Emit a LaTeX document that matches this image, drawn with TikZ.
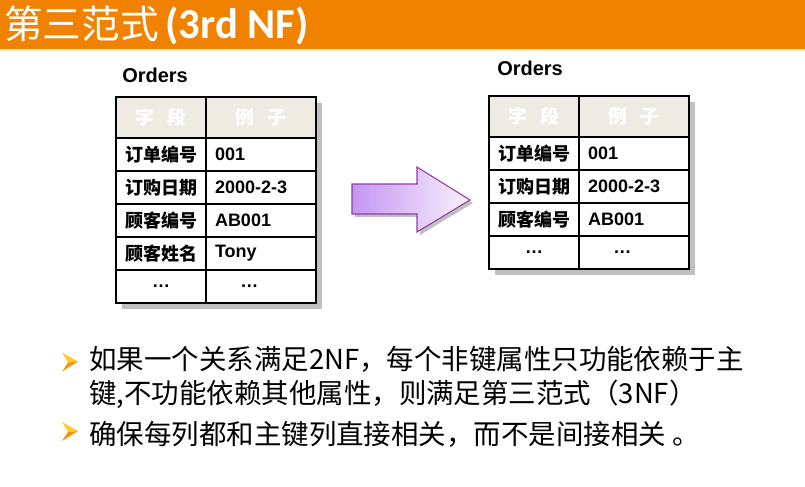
\documentclass[tikz,border=0pt]{standalone}
\usepackage{fontspec}
\setmainfont{Liberation Sans}
\newfontfamily\cjk{Noto Sans CJK SC}
\newfontfamily\titlelatin{Carlito}
\usepackage{tikz}
\usetikzlibrary{positioning, fit, backgrounds}

\definecolor{bandorange}{RGB}{240,130,0}
\definecolor{bandedge}{RGB}{253,238,205}
\definecolor{hdrfill}{RGB}{238,235,226}
\definecolor{shadowgray}{RGB}{192,192,192}
\definecolor{arrowdark}{RGB}{196,150,242}
\definecolor{arrowlight}{RGB}{248,242,253}
\definecolor{arrowline}{RGB}{145,60,165}
\definecolor{bulletgold}{RGB}{255,204,40}
\definecolor{bulletorange}{RGB}{240,150,10}

\begin{document}
\begin{tikzpicture}[
    x=0.75pt, y=-0.75pt,
    tablename/.style={
      anchor=west,
      inner sep=0pt,
      font=\bfseries\fontsize{15pt}{18pt}\selectfont
    },
    cell/.style={
      draw,
      line width=0.8pt,
      outer sep=0pt,
      inner ysep=1pt,
      fill=white,
      minimum height=24.75pt
    },
    hdcell/.style={
      cell,
      fill=hdrfill,
      text=white,
      minimum height=30.75pt,
      font=\cjk\bfseries\fontsize{14pt}{16pt}\selectfont
    },
    keycell/.style={
      cell,
      minimum width=67.5pt,
      inner xsep=3pt,
      font=\cjk\bfseries\fontsize{13.5pt}{16pt}\selectfont
    },
    valcell/.style={
      cell,
      inner xsep=6.75pt,
      text width=69pt,
      align=left,
      font=\bfseries\fontsize{13.5pt}{16pt}\selectfont
    },
    tblshadow/.style={fill=shadowgray, inner sep=0pt, xshift=4.5pt, yshift=-4.5pt},
    pointtext/.style={
      anchor=west,
      inner sep=0pt,
      font=\cjk\fontsize{20.6pt}{24pt}\selectfont
    },
    tipmark/.pic={
      \fill[bulletgold] (0,0) -- (16,9) -- (6,10) -- cycle;
      \fill[bulletorange] (6,10) -- (16,9) -- (0,19) -- cycle;
    }
  ]
    \useasboundingbox (0,0) rectangle (805,486);

    % title band
    \fill[bandorange] (0,0) rectangle (805,49);
    \fill[bandedge] (0,49) rectangle (805,51);
    \node[anchor=west, inner sep=0pt, text=white] (title) at (4,25)
      {{\cjk\fontsize{29pt}{32pt}\selectfont 第三范式}\hspace{5pt}{\titlelatin\bfseries\fontsize{32pt}{34pt}\selectfont (3rd NF)}};

    % left table
    \node[tablename] (lname) at (122,75) {Orders};
    \node[hdcell, minimum width=67.5pt] (lk0) at (161,117.5) {字\hspace{0.7em}段};
    \node[hdcell, minimum width=82.5pt, right=0pt of lk0] (lv0) {例\hspace{0.7em}子};
    \node[keycell, below=0pt of lk0] (lk1) {订单编号};
    \node[valcell, right=0pt of lk1] (lv1) {001};
    \node[keycell, below=0pt of lk1] (lk2) {订购日期};
    \node[valcell, right=0pt of lk2] (lv2) {2000-2-3};
    \node[keycell, below=0pt of lk2] (lk3) {顾客编号};
    \node[valcell, right=0pt of lk3] (lv3) {AB001};
    \node[keycell, below=0pt of lk3] (lk4) {顾客姓名};
    \node[valcell, right=0pt of lk4] (lv4) {Tony};
    \node[keycell, font=\bfseries\fontsize{13.5pt}{16pt}\selectfont, below=0pt of lk4] (lk5) {…};
    \node[valcell, right=0pt of lk5] (lv5) {\hspace*{19pt}…};

    % right table
    \node[tablename] (rname) at (497,68) {Orders};
    \node[hdcell, minimum width=67.5pt] (rk0) at (534,116.5) {字\hspace{0.7em}段};
    \node[hdcell, minimum width=82.5pt, right=0pt of rk0] (rv0) {例\hspace{0.7em}子};
    \node[keycell, below=0pt of rk0] (rk1) {订单编号};
    \node[valcell, right=0pt of rk1] (rv1) {001};
    \node[keycell, below=0pt of rk1] (rk2) {订购日期};
    \node[valcell, right=0pt of rk2] (rv2) {2000-2-3};
    \node[keycell, below=0pt of rk2] (rk3) {顾客编号};
    \node[valcell, right=0pt of rk3] (rv3) {AB001};
    \node[keycell, font=\bfseries\fontsize{13.5pt}{16pt}\selectfont, below=0pt of rk3] (rk4) {…};
    \node[valcell, right=0pt of rk4] (rv4) {\hspace*{19pt}…};

    \begin{scope}[on background layer]
      \node[tblshadow, fit=(lk0)(lv5)] (lshadow) {};
      \node[tblshadow, fit=(rk0)(rv4)] (rshadow) {};
    \end{scope}

    % big arrow
    \fill[shadowgray, shift={(3,3)}] (352,184) -- (417,184) -- (417,167) -- (470,200)
      -- (417,232) -- (417,214) -- (352,214) -- cycle;
    \path[draw=arrowline, line width=0.8pt, left color=arrowdark, right color=arrowlight]
      (352,184) -- (417,184) -- (417,167) -- (470,200)
      -- (417,232) -- (417,214) -- (352,214) -- cycle;

    % points
    \pic at (62,352.5) {tipmark};
    \node[pointtext] (pt1) at (89,359) {如果一个关系满足2NF，每个非键属性只功能依赖于主};
    \node[pointtext] (pt1b) at (89,394.5) {键,不功能依赖其他属性，则满足第三范式（3NF）};
    \pic at (62,422) {tipmark};
    \node[pointtext] (pt2) at (89,434) {确保每列都和主键列直接相关，而不是间接相关 。};
\end{tikzpicture}
\end{document}
